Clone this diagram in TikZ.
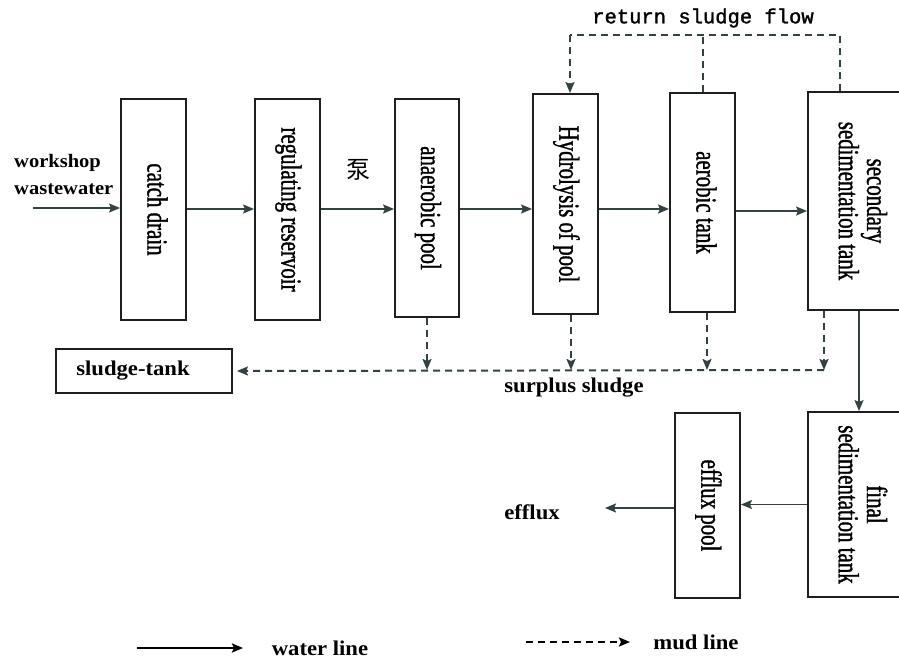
\documentclass[tikz,border=0pt]{standalone}
\usepackage{fontspec}
\setmainfont{Liberation Serif}
\newfontfamily\boxfont[FakeStretch=0.72,FakeBold=1.2]{Liberation Serif}
\newfontfamily\labfont[FakeStretch=1.08]{Liberation Serif}
\newfontfamily\monofont[FakeBold=1.5]{Liberation Mono}
\newfontfamily\cjkfont{Noto Sans CJK SC}
\usetikzlibrary{arrows.meta}
\definecolor{lineteal}{RGB}{50,66,66}
\definecolor{boxgray}{RGB}{30,30,30}
\tikzset{
  tank/.style={draw=boxgray, line width=1.9pt, fill=white, inner sep=0pt,
    font=\boxfont\fontsize{29}{27}\selectfont},
  water/.style={draw=lineteal, line width=1.7pt, -{Stealth[length=11pt,width=9pt,inset=2pt]}},
  mud/.style={draw=lineteal, line width=2pt, dash pattern=on 7pt off 5pt,
    -{Stealth[length=11pt,width=9pt,inset=2pt]}},
  mudline/.style={mud, -},
  lab/.style={font=\labfont\bfseries\fontsize{21}{27}\selectfont, inner sep=0pt},
}
\newcommand{\vtext}[1]{\rotatebox{-90}{\begin{tabular}{@{}c@{}}#1\end{tabular}}}
\begin{document}
\begin{tikzpicture}[x=1pt, y=-1pt]
    \useasboundingbox (0,0) rectangle (899,658);
    % tanks
    \node[tank, minimum width=65pt, minimum height=221pt] (cd) at (153.5,209.5) {\vtext{catch drain}};
    \node[tank, minimum width=65pt, minimum height=221pt] (reg) at (287.5,209.5) {\vtext{regulating reservoir}};
    \node[tank, minimum width=64pt, minimum height=218pt] (ana) at (427,208) {\vtext{anaerobic pool}};
    \node[tank, minimum width=65pt, minimum height=220pt] (hyd) at (565.5,204) {\vtext{Hydrolysis of pool}};
    \node[tank, minimum width=65pt, minimum height=219pt] (aer) at (702.5,202.5) {\vtext{aerobic tank}};
    \node[tank, minimum width=102pt, minimum height=218pt] (sec) at (859,201) {\vtext{secondary\\sedimentation tank}};
    \node[tank, minimum width=102pt, minimum height=185pt] (fin) at (859,504.5) {\vtext{final\\sedimentation tank}};
    \node[tank, minimum width=65pt, minimum height=185pt] (eff) at (707.5,505.5) {\vtext{efflux pool}};
    \node[tank, lab, minimum width=176pt, minimum height=44pt] (sludge) at (144,371) {sludge-tank\hspace*{22pt}};
    % water line
    \coordinate (row) at (0,209);
    \coordinate (in) at (33,208);
    \draw[water] (in) -- (in -| cd.west);
    \draw[water] (cd.east |- row) -- (reg.west |- row);
    \draw[water] (reg.east |- row) -- (ana.west |- row);
    \draw[water] (ana.east |- row) -- (hyd.west |- row);
    \draw[water] (hyd.east |- row) -- (aer.west |- row);
    \draw[water] ([yshift=-2pt]aer.east |- row) -- ([yshift=-2pt]sec.west |- row);
    \draw[water] (sec.south) -- (fin.north);
    \draw[water] (fin.west) -- (fin.west -| eff.east);
    \coordinate (out) at (605,508);
    \draw[water] (eff.west |- out) -- (out);
    % return sludge
    \coordinate (r1) at (570,35);
    \coordinate (r3) at (840,35);
    \draw[mudline] (sec.north -| r3) -- (r3) -- (r1);
    \draw[mudline] (aer.north) -- (aer.north |- r1);
    \draw[mud] (r1) -- (r1 |- hyd.north);
    % surplus sludge
    \coordinate (s1) at (427,370);
    \coordinate (s2) at (571,370);
    \coordinate (s3) at (707,370);
    \coordinate (s4) at (824,370);
    \foreach \b/\s in {ana/s1,hyd/s2,aer/s3,sec/s4}
        \draw[mud] (\b.south -| \s) -- (\s);
    \draw[mud, shorten >=4pt] (s4) -- (sludge.east);
    % labels
    \node[lab, font=\labfont\bfseries\fontsize{19}{27}\selectfont, align=left, anchor=west] (ww) at (14,175) {workshop\\wastewater};
    \node[font=\cjkfont\fontsize{24}{24}\selectfont, inner sep=0pt] (pump) at (358,170) {泵};
    \node[font=\monofont\fontsize{20.5}{22}\selectfont, inner sep=0pt] (rsf) at (703,18) {return sludge flow};
    \node[lab] (sur) at (574,388) {surplus sludge};
    \node[lab] (efl) at (532,512) {efflux};
    % legend
    \coordinate (w0) at (137,648);
    \coordinate (w1) at (243,648);
    \draw[water, draw=black, line width=2.4pt] (w0) -- (w1);
    \node[lab] (wl) at (320,648) {water line};
    \coordinate (m0) at (526,642);
    \coordinate (m1) at (630,642);
    \draw[mud, draw=black, line width=2.4pt] (m0) -- (m1);
    \node[lab] (ml) at (696,642) {mud line};
\end{tikzpicture}
\end{document}
